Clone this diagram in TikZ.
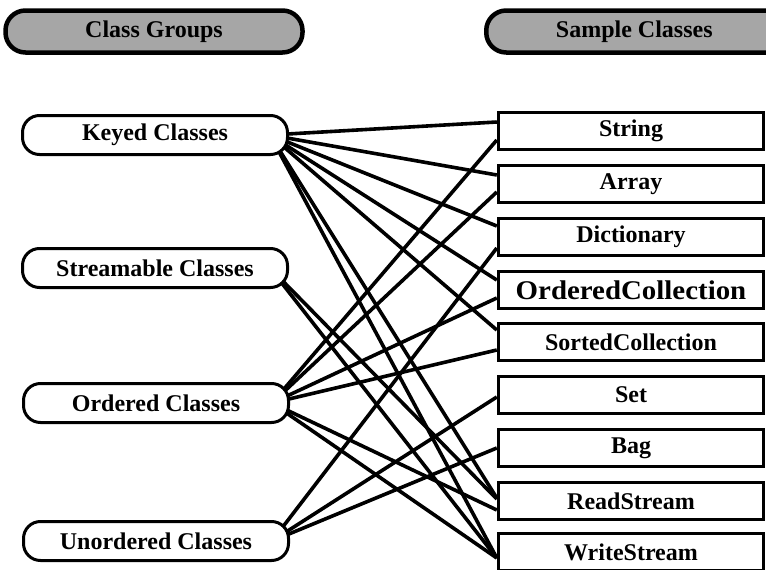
\documentclass[tikz,border=0pt]{standalone}
\usepackage{fontspec}
\setmainfont{Liberation Serif}
\usetikzlibrary{calc,backgrounds}
\begin{document}
\begin{tikzpicture}[x=1pt,y=-1pt,
  hdr/.style={draw=black,line width=4.5pt,fill=black!35,rounded corners=20pt,minimum height=42pt,inner sep=0pt,font=\fontsize{24}{27}\selectfont\bfseries},
  grp/.style={draw=black,line width=3pt,fill=white,rounded corners=17pt,minimum width=265pt,minimum height=39pt,inner sep=0pt,font=\fontsize{24}{27}\selectfont\bfseries},
  cls/.style={draw=black,line width=3.4pt,fill=white,minimum width=265pt,minimum height=37pt,inner sep=0pt,font=\fontsize{24}{27}\selectfont\bfseries},
  link/.style={line width=3.6pt}]
\useasboundingbox (0,0) rectangle (766,570);
\clip (0,0) rectangle (766,570);
% headers
\node[hdr,minimum width=297pt] (h1) at (154,31.5) {Class Groups};
\node[hdr,minimum width=330pt,anchor=west] (h2) at (484,31.5) {\hspace*{-34pt}Sample Classes};
% class groups
\node[grp] (k) at (155,135) {Keyed Classes};
\node[grp] (s) at (155,268) {Streamable Classes};
\node[grp] (o) at (156,403) {Ordered Classes};
\node[grp] (u) at (156,541) {Unordered Classes};
% sample classes
\node[cls] (c1) at (631,131) {String};
\node[cls] (c2) at (631,184) {Array};
\node[cls] (c3) at (631,237) {Dictionary};
\node[cls,font=\fontsize{27}{30}\selectfont\bfseries] (c4) at (631,290) {\scalebox{1.07}[1]{OrderedCollection}};
\node[cls] (c5) at (631,342) {SortedCollection};
\node[cls] (c6) at (631,395) {Set};
\node[cls] (c7) at (631,448) {Bag};
\node[cls] (c8) at (631,501) {ReadStream};
\node[cls] (c9) at (631,552) {WriteStream};
% connector origins (centres of the round right ends)
\coordinate (kc) at ($(k.east)+(-19,0)$);
\coordinate (sc) at ($(s.east)+(-19,0)$);
\coordinate (oc) at ($(o.east)+(-18,0)$);
\coordinate (uc) at ($(u.east)+(-18,0)$);
\begin{pgfonlayer}{background}
% keyed
\draw[link] (kc) -- ($(c1.west)+(0,-9)$);
\draw[link] (kc) -- ($(c2.west)+(0,-9)$);
\draw[link] (kc) -- ($(c3.west)+(0,-11)$);
\draw[link] (kc) -- ($(c4.west)+(0,-10)$);
\draw[link] (kc) -- ($(c5.west)+(0,-12)$);
\draw[link] (kc) -- ($(c8.west)+(0,-3)$);
\draw[link] (kc) -- ($(c9.west)+(0,6)$);
% streamable
\draw[link] (sc) -- ($(c8.west)+(0,-2)$);
\draw[link] (sc) -- ($(c9.west)+(0,6)$);
% ordered
\draw[link] (oc) -- ($(c1.west)+(0,9)$);
\draw[link] (oc) -- ($(c2.west)+(0,8)$);
\draw[link] (oc) -- ($(c4.west)+(0,8)$);
\draw[link] (oc) -- ($(c5.west)+(0,8)$);
\draw[link] (oc) -- ($(c8.west)+(0,9)$);
\draw[link] (oc) -- ($(c9.west)+(0,6)$);
% unordered
\draw[link] (uc) -- ($(c3.west)+(0,11)$);
\draw[link] (uc) -- ($(c6.west)+(0,2)$);
\draw[link] (uc) -- ($(c7.west)+(0,0)$);
\end{pgfonlayer}
\end{tikzpicture}
\end{document}
